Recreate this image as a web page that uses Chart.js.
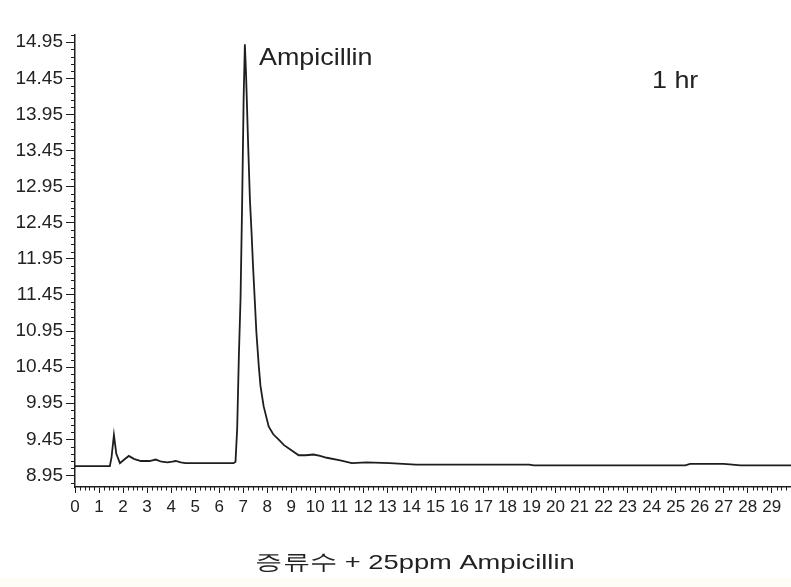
<!DOCTYPE html>
<html>
<head>
<meta charset="utf-8">
<script src="https://cdn.jsdelivr.net/npm/chart.js@4.4.1/dist/chart.umd.min.js"></script>
<style>
  html, body { margin: 0; padding: 0; background: #fff; }
  #chrom { display: block; }
</style>
</head>
<body>
<canvas id="chrom" width="791" height="587"></canvas>
<script>
// retention time (min) and detector response
const times = [0, 1.45, 1.52, 1.62, 1.72, 1.87, 2.05, 2.24, 2.45, 2.74, 3.1, 3.36, 3.6, 3.85, 4.05, 4.19, 4.4, 4.6, 5.0, 5.6, 6.0, 6.6,
  6.68, 6.75, 6.82, 6.89, 6.96, 7.02, 7.07, 7.12, 7.2, 7.28, 7.35, 7.41, 7.55, 7.65, 7.72, 7.85, 8.06, 8.25, 8.47, 8.7, 8.96,
  9.31, 9.6, 9.93, 10.2, 10.48, 11.04, 11.52, 12.14, 13.1, 14.2, 16, 18.9, 19.1, 22, 25.4, 25.6, 27.0, 27.7, 29.8];
const signal = [9.08, 9.08, 9.20, 9.51, 9.25, 9.12, 9.17, 9.22, 9.18, 9.15, 9.15, 9.17, 9.14, 9.13, 9.14, 9.15, 9.13, 9.12, 9.12, 9.12, 9.12, 9.12,
  9.14, 9.6, 10.6, 11.4, 12.8, 14.2, 14.92, 14.5, 13.6, 12.77, 12.3, 11.85, 10.93, 10.46, 10.19, 9.91, 9.63, 9.52, 9.45, 9.37, 9.31,
  9.23, 9.23, 9.24, 9.22, 9.195, 9.16, 9.12, 9.13, 9.12, 9.10, 9.10, 9.10, 9.09, 9.09, 9.09, 9.11, 9.11, 9.09, 9.09];

const yTicks = [8.95, 9.45, 9.95, 10.45, 10.95, 11.45, 11.95, 12.45, 12.95, 13.45, 13.95, 14.45, 14.95];
const xTicks = [0, 1, 2, 3, 4, 5, 6, 7, 8, 9, 10, 11, 12, 13, 14, 15, 16, 17, 18, 19, 20, 21, 22, 23, 24, 25, 26, 27, 28, 29];

const peakName = "Ampicillin";
const timeLabel = "1 hr";
const caption = "증류수 + 25ppm Ampicillin";

const ink = "#1e1e1e";
const narrow = "'Liberation Sans Narrow', 'Liberation Sans', Arial, sans-serif";
const sans = "'Liberation Sans', Arial, sans-serif";

const points = times.map((t, i) => ({ x: t, y: signal[i] }));

// small ticks between the labelled ones, and the texts
const extras = {
  id: "extras",
  beforeDraw(chart) {
    const c = chart.ctx;
    c.save();
    c.fillStyle = "#ffffff";
    c.fillRect(0, 0, chart.width, chart.height);
    c.fillStyle = "#fdfdf6";
    c.fillRect(0, 578, chart.width, chart.height - 578);
    c.restore();
  },
  afterDraw(chart) {
    const c = chart.ctx;
    const xs = chart.scales.x, ys = chart.scales.y;
    const area = chart.chartArea;
    c.save();
    c.strokeStyle = ink;
    c.lineWidth = 1;
    c.beginPath();
    for (let k = 0; k * 0.2 <= xs.max; k++) {
      if (k % 5 === 0) continue;
      const px = Math.round(xs.getPixelForValue(k * 0.2)) + 0.5;
      c.moveTo(px, area.bottom);
      c.lineTo(px, area.bottom + 3.5);
    }
    for (let k = 0; 8.85 + k * 0.1 <= ys.max; k++) {
      const v = 8.85 + k * 0.1;
      if (yTicks.some(t => Math.abs(t - v) < 1e-6)) continue;
      const py = Math.round(ys.getPixelForValue(v)) + 0.5;
      c.moveTo(area.left - 4, py);
      c.lineTo(area.left, py);
    }
    c.stroke();

    c.fillStyle = "#222";
    c.textBaseline = "alphabetic";
    c.font = "24px " + sans;
    c.save();
    c.translate(259, 65);
    c.scale(1.12, 1);
    c.fillText(peakName, 0, 0);
    c.restore();
    c.save();
    c.translate(652, 88);
    c.scale(1.12, 1);
    c.fillText(timeLabel, 0, 0);
    c.restore();
    c.font = "21px " + sans;
    c.save();
    c.translate(415, 569);
    c.scale(1.3, 1);
    c.textAlign = "center";
    c.fillText(caption, 0, 0);
    c.restore();
    c.restore();
  }
};

new Chart(document.getElementById("chrom").getContext("2d"), {
  type: "line",
  data: {
    datasets: [{
      data: points,
      borderColor: ink,
      borderWidth: 1.8,
      pointRadius: 0,
      tension: 0,
      fill: false
    }]
  },
  options: {
    responsive: false,
    animation: false,
    events: [],
    layout: { padding: { top: 35, right: 0, bottom: 0, left: 0 } },
    plugins: { legend: { display: false }, tooltip: { enabled: false } },
    scales: {
      x: {
        type: "linear",
        min: 0,
        max: 29.8,
        afterBuildTicks: s => { s.ticks = xTicks.map(v => ({ value: v })); },
        afterFit: s => { s.height = 100; },
        grid: { drawOnChartArea: false, drawTicks: true, tickLength: 6, color: ink, lineWidth: 1 },
        border: { color: ink, width: 1.5 },
        ticks: {
          color: "#222",
          padding: 4,
          maxRotation: 0,
          autoSkip: false,
          font: { family: narrow, size: 17 },
          callback: v => String(v)
        }
      },
      y: {
        type: "linear",
        min: 8.79,
        max: 15.05,
        afterBuildTicks: s => { s.ticks = yTicks.map(v => ({ value: v })); },
        afterFit: s => { s.width = 75; },
        grid: { drawOnChartArea: false, drawTicks: true, tickLength: 9, color: ink, lineWidth: 1 },
        border: { color: ink, width: 1.5 },
        ticks: {
          color: "#222",
          padding: 3,
          autoSkip: false,
          font: { family: narrow, size: 19 },
          callback: v => v.toFixed(2)
        }
      }
    }
  },
  plugins: [extras]
});
</script>
</body>
</html>
